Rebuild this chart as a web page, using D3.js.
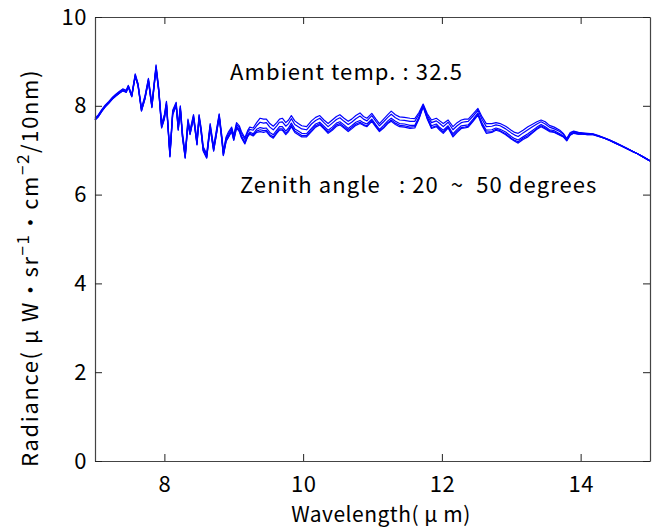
<html lang="en">
<head>
<meta charset="UTF-8">
<script type="text/javascript" src="https://cdn.jsdelivr.net/npm/d3@7"></script>
<title>Radiance spectrum</title>
<style>
  body { margin: 0; background: #fff; }
</style>
</head>
<body>
<script type="text/javascript">

// wavelength (um)
var wavelength = [7.00, 7.05, 7.10, 7.15, 7.20, 7.25, 7.30, 7.35, 7.40, 7.45,
  7.48, 7.53, 7.58, 7.62, 7.67, 7.72, 7.77, 7.82, 7.88, 7.92,
  7.96, 8.00, 8.03, 8.08, 8.12, 8.17, 8.20, 8.23, 8.26, 8.30,
  8.34, 8.37, 8.42, 8.47, 8.50, 8.53, 8.56, 8.61, 8.66, 8.71,
  8.75, 8.79, 8.83, 8.85, 8.89, 8.92, 8.97, 9.00, 9.04, 9.08,
  9.11, 9.16, 9.20, 9.23, 9.28, 9.33, 9.38, 9.43, 9.47, 9.52,
  9.57, 9.62, 9.66, 9.70, 9.75, 9.79, 9.83, 9.88, 9.93, 9.98,
  10.05, 10.12, 10.18, 10.24, 10.30, 10.36, 10.42, 10.48, 10.53, 10.59,
  10.65, 10.70, 10.76, 10.82, 10.87, 10.92, 10.99, 11.05, 11.10, 11.16,
  11.22, 11.27, 11.33, 11.39, 11.46, 11.54, 11.61, 11.67, 11.73, 11.79,
  11.85, 11.92, 11.97, 12.02, 12.09, 12.16, 12.22, 12.28, 12.33, 12.38,
  12.45, 12.52, 12.58, 12.64, 12.72, 12.78, 12.84, 12.92, 13.00, 13.05,
  13.10, 13.17, 13.24, 13.30, 13.37, 13.43, 13.49, 13.55, 13.62, 13.70,
  13.75, 13.80, 13.85, 13.90, 13.97, 14.03, 14.10, 14.18, 14.26, 14.34,
  14.42, 14.50, 14.58, 14.66, 14.74, 14.82, 14.90, 15.00];

// radiance, zenith angle 20 deg
var zen20 = [7.68, 7.76, 7.88, 7.98, 8.06, 8.15, 8.22, 8.28, 8.34, 8.30,
  8.42, 8.20, 8.66, 8.45, 7.88, 8.15, 8.55, 7.96, 8.84, 8.30,
  7.50, 7.70, 8.02, 6.85, 7.80, 8.00, 7.45, 7.92, 7.30, 6.82,
  7.60, 7.35, 7.72, 7.12, 7.72, 7.40, 6.98, 6.82, 7.50, 6.98,
  7.35, 7.75, 7.20, 6.88, 7.20, 7.28, 7.42, 7.22, 7.50, 7.42,
  7.28, 7.14, 7.30, 7.36, 7.32, 7.40, 7.42, 7.40, 7.42, 7.32,
  7.27, 7.38, 7.45, 7.45, 7.35, 7.42, 7.53, 7.40, 7.35, 7.30,
  7.30, 7.42, 7.52, 7.57, 7.48, 7.38, 7.45, 7.54, 7.57, 7.50,
  7.42, 7.48, 7.56, 7.60, 7.56, 7.53, 7.65, 7.52, 7.42, 7.50,
  7.60, 7.65, 7.58, 7.53, 7.52, 7.49, 7.50, 7.70, 7.98, 7.70,
  7.49, 7.53, 7.45, 7.38, 7.50, 7.30, 7.40, 7.49, 7.50, 7.52,
  7.65, 7.79, 7.55, 7.38, 7.40, 7.45, 7.42, 7.35, 7.25, 7.20,
  7.16, 7.24, 7.30, 7.38, 7.47, 7.53, 7.48, 7.42, 7.40, 7.34,
  7.30, 7.21, 7.34, 7.38, 7.36, 7.36, 7.35, 7.35, 7.31, 7.27,
  7.22, 7.16, 7.10, 7.04, 6.98, 6.92, 6.85, 6.76];

// radiance, zenith angle 30 deg
var zen30 = [7.68, 7.76, 7.88, 7.98, 8.06, 8.15, 8.22, 8.28, 8.34, 8.31,
  8.42, 8.21, 8.67, 8.46, 7.89, 8.16, 8.56, 7.97, 8.85, 8.31,
  7.51, 7.71, 8.03, 6.86, 7.81, 8.01, 7.46, 7.93, 7.31, 6.83,
  7.61, 7.36, 7.73, 7.13, 7.73, 7.41, 6.99, 6.83, 7.51, 6.99,
  7.36, 7.76, 7.21, 6.89, 7.21, 7.29, 7.43, 7.23, 7.51, 7.44,
  7.30, 7.16, 7.32, 7.38, 7.34, 7.43, 7.46, 7.44, 7.45, 7.35,
  7.30, 7.41, 7.48, 7.48, 7.38, 7.45, 7.56, 7.43, 7.38, 7.33,
  7.33, 7.45, 7.55, 7.60, 7.50, 7.41, 7.48, 7.57, 7.60, 7.53,
  7.45, 7.51, 7.59, 7.63, 7.58, 7.55, 7.67, 7.54, 7.44, 7.52,
  7.62, 7.68, 7.61, 7.56, 7.55, 7.52, 7.53, 7.72, 7.99, 7.71,
  7.51, 7.55, 7.48, 7.41, 7.52, 7.33, 7.43, 7.51, 7.52, 7.54,
  7.67, 7.81, 7.57, 7.41, 7.42, 7.47, 7.44, 7.37, 7.27, 7.22,
  7.19, 7.27, 7.33, 7.40, 7.49, 7.55, 7.50, 7.44, 7.41, 7.35,
  7.31, 7.22, 7.35, 7.39, 7.36, 7.36, 7.35, 7.35, 7.31, 7.27,
  7.22, 7.16, 7.10, 7.04, 6.98, 6.92, 6.85, 6.76];

// radiance, zenith angle 40 deg
var zen40 = [7.69, 7.77, 7.89, 7.99, 8.07, 8.16, 8.23, 8.29, 8.35, 8.32,
  8.43, 8.22, 8.68, 8.47, 7.90, 8.17, 8.57, 7.98, 8.86, 8.32,
  7.53, 7.73, 8.04, 6.88, 7.83, 8.02, 7.48, 7.94, 7.33, 6.85,
  7.63, 7.38, 7.74, 7.15, 7.74, 7.43, 7.01, 6.85, 7.53, 7.01,
  7.38, 7.77, 7.23, 6.91, 7.23, 7.32, 7.45, 7.26, 7.54, 7.46,
  7.32, 7.18, 7.34, 7.41, 7.37, 7.47, 7.51, 7.49, 7.50, 7.40,
  7.35, 7.45, 7.53, 7.53, 7.43, 7.50, 7.61, 7.48, 7.43, 7.38,
  7.37, 7.49, 7.59, 7.63, 7.54, 7.45, 7.52, 7.61, 7.64, 7.57,
  7.49, 7.55, 7.63, 7.67, 7.62, 7.59, 7.70, 7.57, 7.47, 7.56,
  7.66, 7.72, 7.65, 7.60, 7.59, 7.56, 7.56, 7.75, 8.00, 7.74,
  7.55, 7.59, 7.51, 7.45, 7.55, 7.37, 7.47, 7.55, 7.56, 7.57,
  7.70, 7.84, 7.61, 7.45, 7.46, 7.50, 7.47, 7.41, 7.31, 7.26,
  7.23, 7.30, 7.37, 7.44, 7.52, 7.58, 7.53, 7.46, 7.44, 7.37,
  7.32, 7.23, 7.36, 7.40, 7.37, 7.37, 7.36, 7.36, 7.32, 7.27,
  7.22, 7.16, 7.10, 7.04, 6.98, 6.92, 6.85, 6.76];

// radiance, zenith angle 45 deg
var zen45 = [7.71, 7.79, 7.91, 8.01, 8.09, 8.18, 8.25, 8.31, 8.37, 8.34,
  8.45, 8.24, 8.70, 8.49, 7.93, 8.20, 8.60, 8.02, 8.90, 8.36,
  7.57, 7.77, 8.08, 6.92, 7.87, 8.06, 7.52, 7.98, 7.37, 6.89,
  7.67, 7.42, 7.78, 7.19, 7.78, 7.47, 7.05, 6.89, 7.57, 7.05,
  7.42, 7.80, 7.27, 6.95, 7.27, 7.36, 7.49, 7.30, 7.58, 7.51,
  7.38, 7.24, 7.40, 7.47, 7.45, 7.55, 7.63, 7.61, 7.62, 7.52,
  7.46, 7.55, 7.63, 7.64, 7.54, 7.60, 7.71, 7.58, 7.53, 7.48,
  7.46, 7.59, 7.67, 7.72, 7.62, 7.53, 7.61, 7.69, 7.73, 7.65,
  7.58, 7.63, 7.71, 7.77, 7.70, 7.66, 7.78, 7.65, 7.55, 7.64,
  7.74, 7.81, 7.73, 7.68, 7.67, 7.65, 7.65, 7.81, 8.02, 7.78,
  7.62, 7.66, 7.60, 7.53, 7.63, 7.46, 7.55, 7.62, 7.64, 7.65,
  7.77, 7.90, 7.69, 7.53, 7.54, 7.57, 7.55, 7.48, 7.39, 7.34,
  7.31, 7.39, 7.46, 7.52, 7.59, 7.64, 7.59, 7.52, 7.48, 7.42,
  7.36, 7.25, 7.38, 7.42, 7.39, 7.38, 7.37, 7.36, 7.32, 7.28,
  7.23, 7.17, 7.11, 7.05, 6.98, 6.92, 6.85, 6.76];

// radiance, zenith angle 50 deg
var zen50 = [7.72, 7.80, 7.92, 8.02, 8.10, 8.19, 8.26, 8.32, 8.38, 8.35,
  8.46, 8.25, 8.72, 8.50, 7.95, 8.22, 8.62, 8.04, 8.92, 8.38,
  7.60, 7.80, 8.10, 6.95, 7.90, 8.08, 7.55, 8.00, 7.40, 6.92,
  7.70, 7.45, 7.80, 7.22, 7.80, 7.50, 7.08, 6.92, 7.60, 7.08,
  7.45, 7.82, 7.30, 6.98, 7.30, 7.40, 7.52, 7.34, 7.62, 7.55,
  7.42, 7.28, 7.44, 7.52, 7.50, 7.62, 7.72, 7.70, 7.70, 7.60,
  7.54, 7.62, 7.70, 7.72, 7.62, 7.68, 7.78, 7.66, 7.60, 7.55,
  7.53, 7.66, 7.74, 7.78, 7.68, 7.60, 7.68, 7.76, 7.80, 7.72,
  7.65, 7.70, 7.78, 7.84, 7.76, 7.72, 7.83, 7.70, 7.60, 7.70,
  7.80, 7.88, 7.80, 7.75, 7.74, 7.72, 7.71, 7.85, 8.04, 7.82,
  7.68, 7.72, 7.66, 7.60, 7.68, 7.53, 7.62, 7.68, 7.70, 7.70,
  7.82, 7.94, 7.75, 7.60, 7.60, 7.62, 7.60, 7.54, 7.45, 7.40,
  7.38, 7.45, 7.53, 7.58, 7.64, 7.68, 7.64, 7.56, 7.52, 7.45,
  7.38, 7.26, 7.40, 7.43, 7.40, 7.39, 7.38, 7.37, 7.33, 7.28,
  7.23, 7.17, 7.11, 7.05, 6.98, 6.92, 6.85, 6.76];

var seriesList = [zen20, zen30, zen40, zen45, zen50];

var xTicks = [8, 10, 12, 14];
var yTicks = [0, 2, 4, 6, 8, 10];

//Width and height
var w = 656;
var h = 528;
var plotLeft = 95, plotRight = 650, plotTop = 17, plotBottom = 461;
var font = "'Noto Sans CJK JP', 'Noto Sans', sans-serif";

var xScale = d3.scaleLinear()
    .domain([7, 15])
    .range([plotLeft, plotRight]);

var yScale = d3.scaleLinear()
    .domain([0, 10])
    .range([plotBottom, plotTop]);

var svg = d3.select("body")
    .append("svg")
    .attr("width", w)
    .attr("height", h);

// data lines
var line = d3.line()
    .x(function (d, i) { return xScale(wavelength[i]); })
    .y(function (d) { return yScale(d); });

svg.append("g")
    .selectAll("path")
    .data(seriesList)
    .enter()
    .append("path")
    .attr("d", line)
    .attr("fill", "none")
    .attr("stroke", "#0000ff")
    .attr("stroke-width", 1.2)
    .attr("stroke-linejoin", "round");

// axes (box with inward ticks)
function styleAxis(g) {
    g.selectAll(".domain").attr("stroke", "#444").attr("stroke-width", 1.2);
    g.selectAll(".tick line").attr("stroke", "#222").attr("stroke-width", 1);
    g.selectAll(".tick text")
        .attr("font-family", font)
        .attr("font-size", "22px")
        .attr("letter-spacing", "0.5px")
        .attr("fill", "#000");
}

svg.append("g")
    .attr("transform", "translate(0," + plotBottom + ")")
    .call(d3.axisBottom(xScale).tickValues(xTicks).tickFormat(d3.format("d"))
        .tickSizeInner(-7).tickSizeOuter(0).tickPadding(15))
    .call(styleAxis);

svg.append("g")
    .attr("transform", "translate(0," + plotTop + ")")
    .call(d3.axisTop(xScale).tickValues(xTicks).tickFormat("")
        .tickSizeInner(-7).tickSizeOuter(0))
    .call(styleAxis);

svg.append("g")
    .attr("transform", "translate(" + plotLeft + ",0)")
    .call(d3.axisLeft(yScale).tickValues(yTicks).tickFormat(d3.format("d"))
        .tickSizeInner(-7).tickSizeOuter(0).tickPadding(8))
    .call(styleAxis);

svg.append("g")
    .attr("transform", "translate(" + plotRight + ",0)")
    .call(d3.axisRight(yScale).tickValues(yTicks).tickFormat("")
        .tickSizeInner(-7).tickSizeOuter(0))
    .call(styleAxis);

// annotations
svg.append("text")
    .attr("x", 230)
    .attr("y", 80)
    .attr("font-family", font)
    .attr("font-size", "22px")
    .attr("letter-spacing", "1.1px")
    .text("Ambient temp.\u00a0:\u00a032.5");

svg.append("text")
    .attr("x", 240)
    .attr("y", 193)
    .attr("font-family", font)
    .attr("font-size", "22px")
    .attr("letter-spacing", "1.1px")
    .text("Zenith angle\u00a0\u00a0\u00a0:\u00a020\u00a0\u00a0~\u00a0\u00a050 degrees");

// axis titles
svg.append("text")
    .attr("x", 381)
    .attr("y", 522)
    .attr("text-anchor", "middle")
    .attr("font-family", font)
    .attr("font-size", "21px")
    .attr("letter-spacing", "0.5px")
    .text("Wavelength(\u00a0μ\u00a0m)");

var yTitle = svg.append("text")
    .attr("transform", "translate(38,268) rotate(-90)")
    .attr("text-anchor", "middle")
    .attr("font-family", font)
    .attr("font-size", "22px")
    .attr("letter-spacing", "1.6px");

yTitle.append("tspan").text("Radiance(\u00a0μ\u00a0W・sr");
yTitle.append("tspan").attr("dy", -9).attr("font-size", "17px").text("−1");
yTitle.append("tspan").attr("dy", 9).text("・cm");
yTitle.append("tspan").attr("dy", -9).attr("font-size", "17px").text("−2");
yTitle.append("tspan").attr("dy", 9).text("/10nm)");

</script>
</body>
</html>
